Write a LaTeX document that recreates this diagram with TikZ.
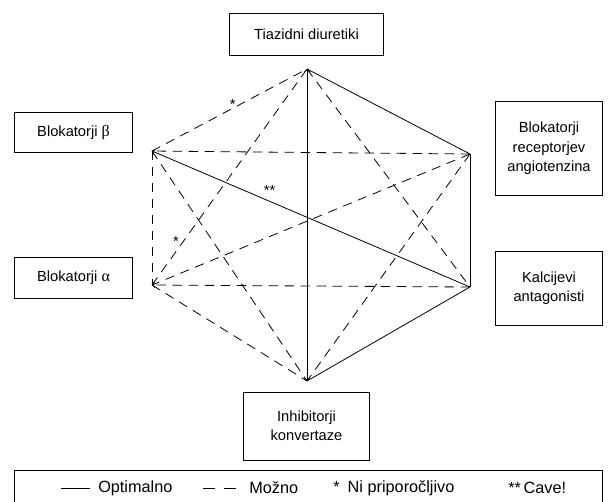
\documentclass[tikz,border=0pt]{standalone}
\usepackage{fontspec}
\setmainfont{Liberation Sans}
\newfontfamily\grk{Liberation Serif}
\usepackage{amsmath}

\begin{document}
\begin{tikzpicture}[x=0.75pt,y=0.75pt,yscale=-1,xscale=1,
  box/.style={draw,line width=0.6pt,align=center,inner sep=0.75pt,font=\fontsize{11}{14.5}\selectfont},
  opt/.style={line width=0.6pt},
  moz/.style={line width=0.6pt,dash pattern={on 7pt off 5pt}},
  lbl/.style={inner sep=0.75pt,font=\fontsize{11}{13}\selectfont},
  leg/.style={inner sep=0.75pt,font=\fontsize{12.2}{14}\selectfont}]
\useasboundingbox (0,0) rectangle (616,501);

% Vertices
\coordinate (T) at (307,69);
\coordinate (UR) at (470,154);
\coordinate (LR) at (470,287);
\coordinate (B) at (307,381);
\coordinate (LL) at (152,285);
\coordinate (UL) at (152,151);

% Text Node
\node[box,minimum width=115pt,minimum height=31pt] (tiaz) at (306.5,34.5) {Tiazidni diuretiki};
% Text Node
\node[box,minimum width=89pt,minimum height=30pt] (bbeta) at (73.5,132.5) {Blokatorji {\grk\fontsize{12}{14}\selectfont β}};
% Text Node
\node[box,minimum width=89pt,minimum height=31pt] (balfa) at (73.5,278) {Blokatorji {\grk\fontsize{12}{14}\selectfont α}};
% Text Node
\node[box,minimum width=80pt,minimum height=70pt] (brec) at (549,148.5) {Blokatorji\\receptorjev\\angiotenzina};
% Text Node
\node[box,minimum width=80pt,minimum height=55pt] (kalc) at (549,288.5) {Kalcijevi\\antagonisti};
% Text Node
\node[box,minimum width=94pt,minimum height=51pt] (inhib) at (306.5,426) {Inhibitorji\\konvertaze};

%Straight Lines (optimalno)
\draw[opt,<->] (B) -- (T);
\draw[opt] (T) -- (UR);
\draw[opt] (UR) -- (LR);
\draw[opt] (LR) -- (B);
\draw[opt,->] (LR) -- (UL) node[pos=0.63,above=3pt,lbl] {**};

%Straight Lines (mozno)
\draw[moz] (UL) -- (T) node[pos=0.52,above=-2pt,lbl] {*};
\draw[moz] (LL) -- (T) node[pos=0.2,left=2pt,lbl] {*};
\draw[moz] (T) -- (LR);
\draw[moz] (UR) -- (UL);
\draw[moz] (UL) -- (LL);
\draw[moz] (UL) -- (B);
\draw[moz] (UR) -- (LL);
\draw[moz,->] (LR) -- (LL);
\draw[moz] (LL) -- (B);
\draw[moz] (UR) -- (B);

% Legend
\node[draw,line width=0.6pt,minimum width=441pt,minimum height=29pt,inner sep=0pt] (legend) at (308,490) {};
\coordinate (optA) at (61,488);
\coordinate (optB) at (90,488);
\draw[opt] (optA) -- (optB);
\node[leg,anchor=west] (optT) at (97,488) {Optimalno};
\coordinate (mozA) at (203,488);
\coordinate (mozB) at (237,488);
\draw[opt,dash pattern={on 9pt off 7pt}] (mozA) -- (mozB);
\node[leg,anchor=west] (mozT) at (248,488) {Možno};
\node[leg,anchor=west] (niT) at (332,488) {*\enspace Ni priporočljivo};
\node[leg,anchor=west] (caveT) at (507,488) {**\,Cave!};
\end{tikzpicture}
\end{document}
